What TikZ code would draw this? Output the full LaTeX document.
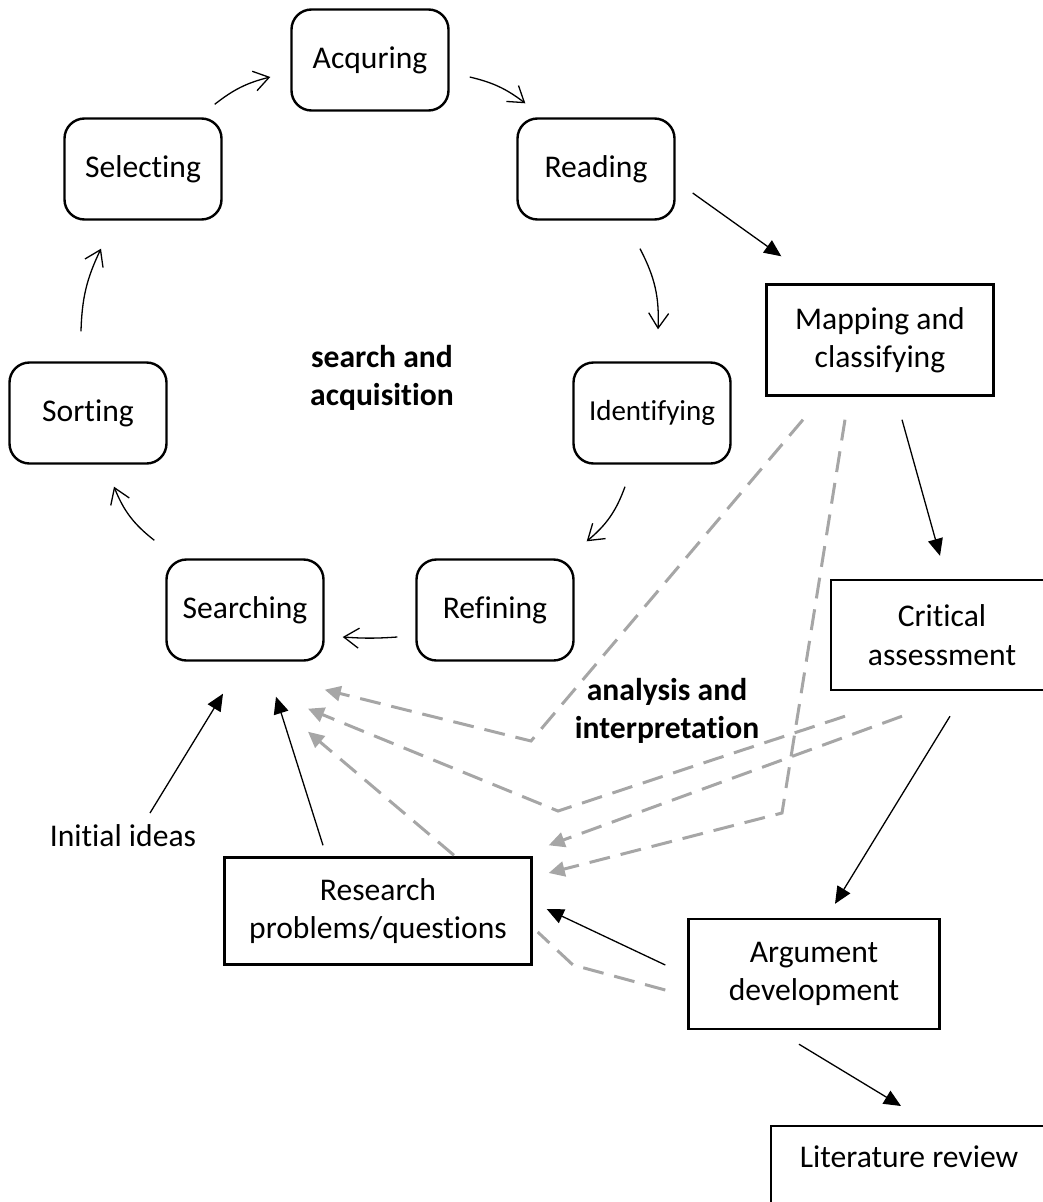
\documentclass[tikz,border=0pt]{standalone}
\usepackage{fontspec}
\setmainfont{Carlito}[Ligatures=NoCommon]
\usetikzlibrary{arrows.meta,calc}
\definecolor{fadegray}{RGB}{166,166,166}
\begin{document}
\begin{tikzpicture}[x=1pt,y=1pt,
  every node/.style={inner sep=0pt, align=center, font=\fontsize{31.6}{38.5}\selectfont},
  stage/.style={draw, line width=2.4pt, rounded corners=20pt, minimum width=157pt, minimum height=101pt},
  block/.style={draw, line width=2.4pt, minimum height=111pt},
  cyc/.style={line width=1.3pt, -{Straight Barb[length=15pt,width=20pt]}},
  flow/.style={line width=1.3pt, -{Triangle[length=17pt,width=15pt]}},
  back/.style={line width=3pt, draw=fadegray, dash pattern=on 21pt off 11pt, -{Triangle[length=16pt,width=15pt]}},
  tag/.style={font=\fontsize{31.6}{38.5}\selectfont\bfseries}
]
\path[use as bounding box, clip] (0,0) rectangle (1043,-1202);

% search and acquisition cycle
\node[stage] (Acq) at (370,-60) {Acquring};
\node[stage] (Sel) at (143,-169) {Selecting};
\node[stage] (Read) at (596,-169) {Reading};
\node[stage] (Sort) at (88,-413) {Sorting};
\node[stage, font=\fontsize{29}{35}\selectfont] (Ident) at (652,-413) {Identifying};
\node[stage] (Search) at (245,-610) {Searching};
\node[stage] (Ref) at (495,-610) {Refining};

% analysis and interpretation chain
\node[block, minimum width=227pt] (Map) at (880,-340) {Mapping and\\classifying};
\node[block, minimum width=222pt, minimum height=110pt] (Crit) at (942,-635) {Critical\\assessment};
\node[block, minimum width=251pt, minimum height=110pt] (Arg) at (814,-974) {Argument\\development};
\node[block, minimum width=307pt, minimum height=107pt] (Res) at (378,-911) {Research\\problems/questions};
\node[draw, line width=2.4pt, minimum width=276pt, text height=41pt, text depth=70pt, anchor=north] (Lit) at (909,-1125) {Literature review};

% free labels
\node (Init) at (123,-836) {Initial ideas};
\node[tag] (SA) at (382,-378) {search and\\acquisition};
\node[tag] (AI) at (667,-711) {analysis and\\interpretation};

% cycle arrows
\draw[cyc] ($(Sel.north east)+(-8,13)$) to[bend left=12] ($(Acq.west)+(-20,-17)$);
\draw[cyc] ($(Acq.east)+(20,-17)$) to[bend left=12] ($(Read.north west)+(9,14)$);
\draw[cyc] ($(Read.south)+(44,-28)$) to[bend left=15] ($(Ident.north)+(6,32)$);
\draw[cyc] ($(Ident.south)+(-27,-22)$) to[bend left=15] ($(Ref.north east)+(12,17)$);
\draw[cyc] ($(Ref.west)+(-18,-27)$) to[bend left=4] ($(Search.east)+(18,-27)$);
\draw[cyc] ($(Search.north west)+(-11,18)$) to[bend left=15] ($(Sort.south)+(26,-22)$);
\draw[cyc] ($(Sort.north)+(-7,30)$) to[bend left=12] ($(Sel.south)+(-42,-28)$);

% main flow
\draw[flow] ($(Read.east)+(17,-24)$) -- ($(Map.north west)+(16,27)$);
\draw[flow] ($(Init.center)+(27,23)$) -- ($(Search.south)+(-22,-32)$);
\draw[flow] ($(Res.north)+(-55,11)$) -- ($(Search.south)+(31,-35)$);
\draw[flow] ($(Map.south)+(22,-23)$) -- ($(Crit.north)+(-2,23)$);
\draw[flow] ($(Crit.south)+(8,-25)$) -- ($(Arg.north)+(21,14)$);
\draw[flow] ($(Arg.west)+(-22,9)$) -- ($(Res.east)+(14,2)$);
\draw[flow] ($(Arg.south)+(-15,-14)$) -- ($(Lit.north)+(-8,19)$);

% feedback paths
\coordinate (kA) at (531,-741);
\coordinate (kB) at (782,-813);
\coordinate (kC) at (558,-811);
\coordinate (kF) at (573,-965);
\draw[back] ($(Map.south)+(-77,-23)$) -- (kA) -- ($(Search.south east)+(0,-28)$);
\draw[back] ($(Map.south)+(-35,-23)$) -- (kB) -- ($(Res.east)+(16,38)$);
\draw[back] ($(Crit.south)+(-97,-25)$) -- (kC) -- ($(Search.south)+(63,-47)$);
\draw[back] ($(Crit.south)+(-40,-25)$) -- ($(Res.north east)+(16,11)$);
\draw[back] ($(Res.north)+(76,1)$) -- ($(Search.south)+(63,-70)$);
\draw[back, -] ($(Arg.west)+(-22,-16)$) -- (kF) -- ($(Res.east)+(5,-21)$);
\end{tikzpicture}
\end{document}
